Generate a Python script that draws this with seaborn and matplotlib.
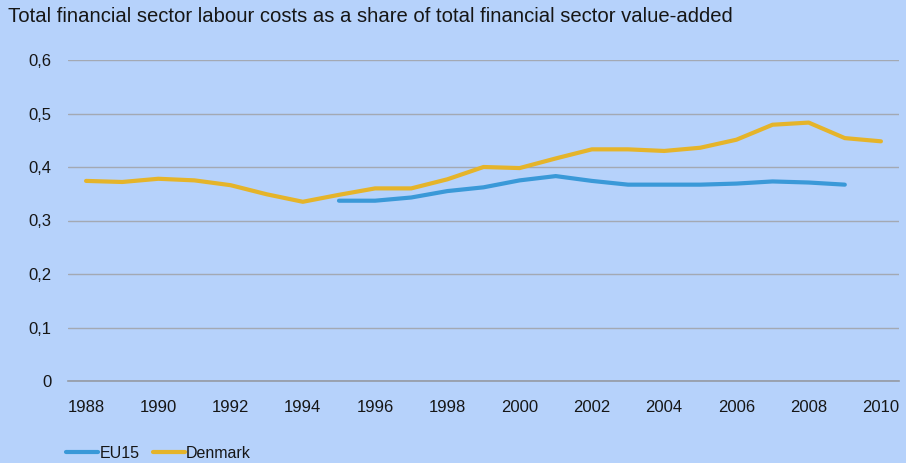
import seaborn as sns
import matplotlib.pyplot as plt
import pandas as pd
from matplotlib.lines import Line2D

# values
years = list(range(1988, 2011))
denmark = [0.374, 0.372, 0.378, 0.375, 0.366, 0.349, 0.335, 0.348, 0.360, 0.360, 0.377,
           0.400, 0.398, 0.416, 0.433, 0.433, 0.430, 0.436, 0.451, 0.479, 0.483, 0.454, 0.448]
eu15_years = list(range(1995, 2010))
eu15 = [0.337, 0.337, 0.343, 0.355, 0.362, 0.375, 0.383, 0.374, 0.367, 0.367, 0.367,
        0.369, 0.373, 0.371, 0.367]
ytick_vals = [0, 0.1, 0.2, 0.3, 0.4, 0.5, 0.6]
ytick_labels = ['0', '0,1', '0,2', '0,3', '0,4', '0,5', '0,6']
title = 'Total financial sector labour costs as a share of total financial sector value-added'

df = pd.concat([
    pd.DataFrame({'year': eu15_years, 'value': eu15, 'series': 'EU15'}),
    pd.DataFrame({'year': years, 'value': denmark, 'series': 'Denmark'}),
])

bg = '#b6d2fb'
sns.set_style('white')
plt.rcParams['font.family'] = ['Liberation Sans', 'DejaVu Sans']
plt.rcParams['text.color'] = '#161616'
plt.rcParams['xtick.labelcolor'] = '#161616'
plt.rcParams['ytick.labelcolor'] = '#161616'

fig = plt.figure(figsize=(9.06, 4.63), dpi=100, facecolor=bg)
ax = fig.add_axes([68 / 906, 1 - 381 / 463, (899 - 68) / 906, (381 - 60) / 463])
ax.set_facecolor(bg)

sns.lineplot(data=df, x='year', y='value', hue='series',
             palette={'EU15': '#3a99d8', 'Denmark': '#e5b42a'},
             linewidth=3, ax=ax, legend=False)

ax.set_xlim(1987.5, 2010.5)
ax.set_ylim(0, 0.6)
ax.set_yticks(ytick_vals)
ax.set_yticklabels(ytick_labels)
ax.set_xticks(years[::2])
ax.set_xticks([y - 0.5 for y in years] + [2010.5], minor=True)
ax.tick_params(axis='x', which='major', length=0, pad=14, labelsize=12)
ax.tick_params(axis='x', which='minor', direction='in', length=4, color='#909090')
ax.tick_params(axis='y', length=0, pad=12, labelsize=12)
ax.grid(axis='y', color='#a3a9b3', linewidth=1)
ax.set_axisbelow(True)
for s in ['left', 'right', 'top']:
    ax.spines[s].set_visible(False)
ax.spines['bottom'].set_color('#959aa3')
ax.spines['bottom'].set_linewidth(1.2)
ax.set_xlabel('')
ax.set_ylabel('')

fig.text(8 / 906, 1 - 16 / 463, title, fontsize=14.6, va='center', ha='left')

# legend below the axis
handles = [Line2D([], [], color='#3a99d8', linewidth=3),
           Line2D([], [], color='#e5b42a', linewidth=3)]
fig.legend(handles, ['EU15', 'Denmark'], loc='center left',
           bbox_to_anchor=(52 / 906, 1 - 453 / 463), ncol=2, frameon=False,
           fontsize=11.5, handlelength=2.0, handletextpad=0.1, columnspacing=0.8)

fig.savefig('out.png', dpi=100, facecolor=bg)
